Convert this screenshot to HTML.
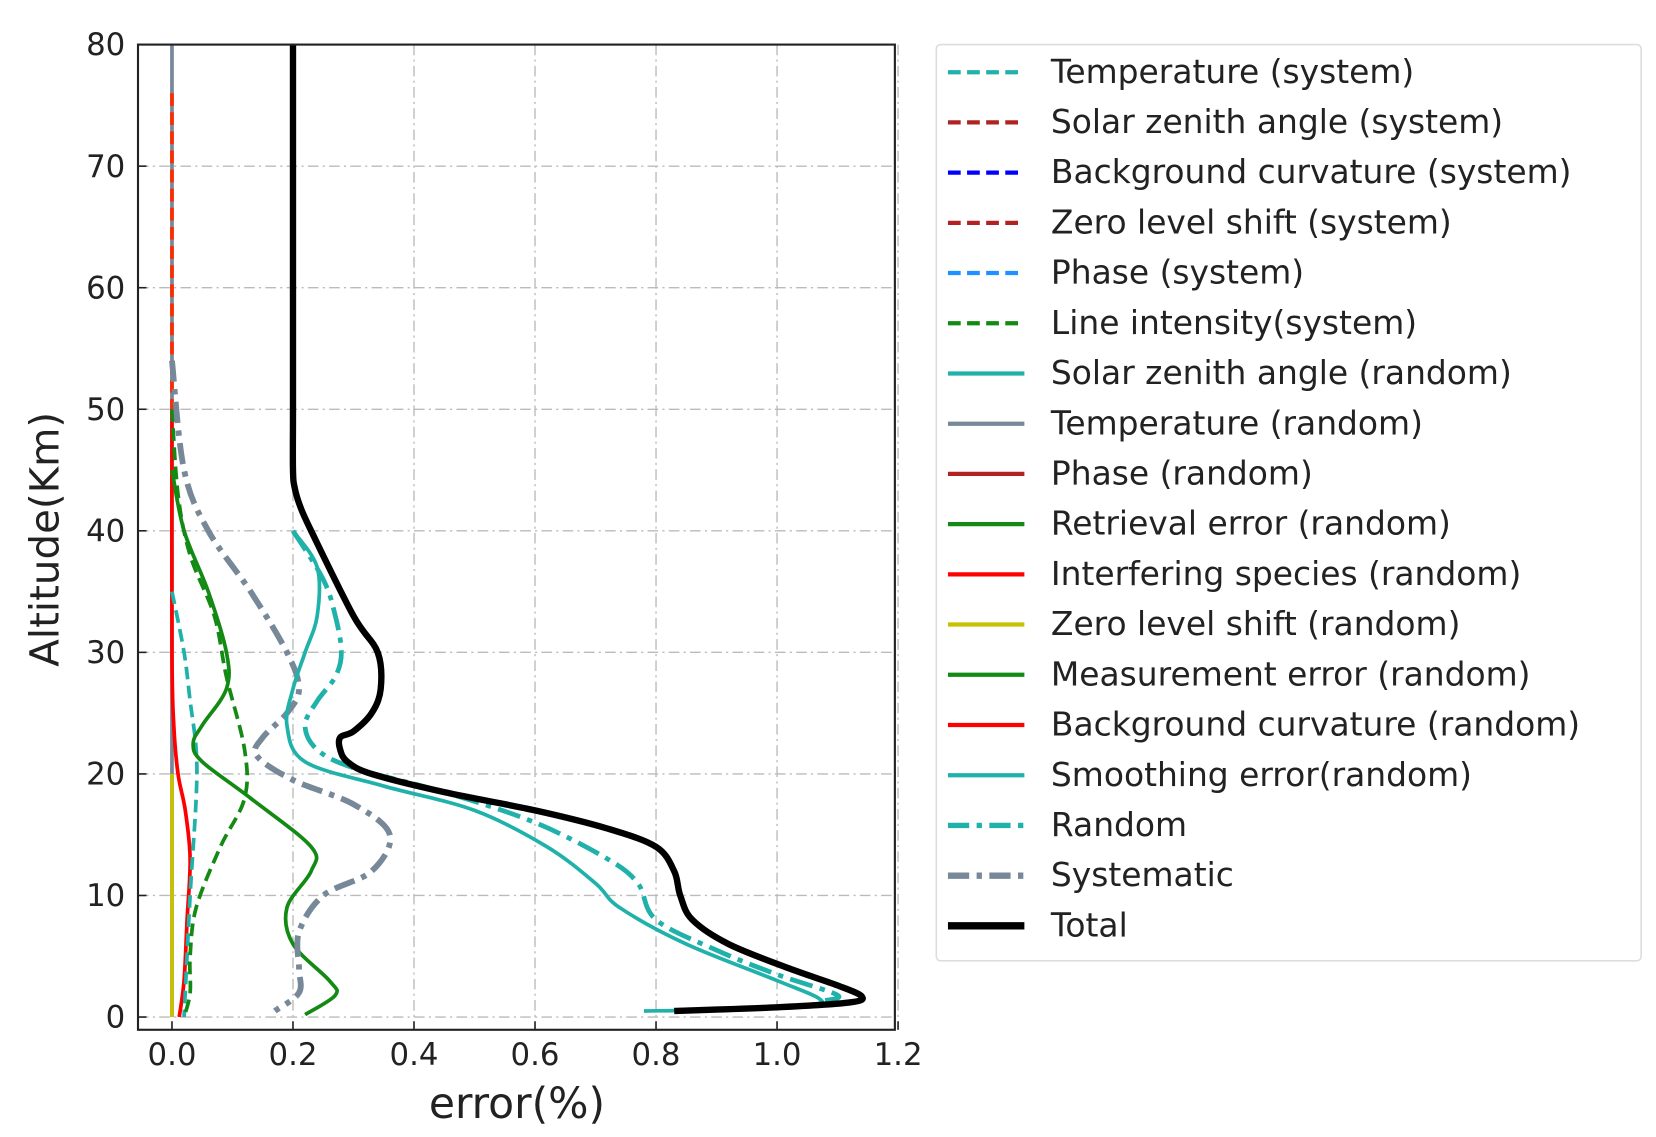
<!DOCTYPE html>
<html><head><meta charset="utf-8"><style>html,body{margin:0;padding:0;background:#fff}svg{display:block}</style></head>
<body>
<svg id="s" width="1656" height="1137" viewBox="0 0 1560 1071" preserveAspectRatio="none" xmlns="http://www.w3.org/2000/svg" font-family="DejaVu Sans, Liberation Sans, sans-serif">
<g id="grid"></g>
<g id="curves"></g>
<rect x="130" y="42" width="713" height="928" fill="none" stroke="#222" stroke-width="2"/>
<g id="ticks" font-size="29" fill="#222"></g>
<text x="487" y="1053" font-size="40" text-anchor="middle" fill="#222">error(%)</text>
<text transform="translate(55,508) rotate(-90)" font-size="38" text-anchor="middle" fill="#222">Altitude(Km)</text>
<rect x="882" y="42" width="664" height="863" rx="4" fill="#fff" stroke="#ddd" stroke-width="1.5"/>
<g id="leg" font-size="31" fill="#222"></g>
</svg>
<script>
const NS="http://www.w3.org/2000/svg";
const X=v=>162+v*570, Y=k=>958-k*11.45;
function el(p,t,a,txt){const e=document.createElementNS(NS,t);for(const k in a)e.setAttribute(k,a[k]);if(txt!==undefined)e.textContent=txt;document.getElementById(p).appendChild(e);return e;}
for(let i=0;i<=6;i++){const x=X(i*0.2);
 el('grid','line',{x1:x,y1:42,x2:x,y2:970,stroke:'#bbb','stroke-width':1.3,'stroke-dasharray':'10,4,2,4'});
 el('grid','line',{x1:x,y1:970,x2:x,y2:962,stroke:'#222','stroke-width':1.5});
 el('ticks','text',{x:x,y:1003,'text-anchor':'middle'},(i*0.2).toFixed(1));}
for(let k=0;k<=80;k+=10){const y=Y(k);
 el('grid','line',{x1:130,y1:y,x2:843,y2:y,stroke:'#bbb','stroke-width':1.3,'stroke-dasharray':'10,4,2,4'});
 el('grid','line',{x1:130,y1:y,x2:138,y2:y,stroke:'#222','stroke-width':1.5});
 el('ticks','text',{x:118,y:y+10,'text-anchor':'end'},k);}
function path(pts){const P=pts.map(p=>[X(p[0]),Y(p[1])]);let d='M'+P[0][0]+','+P[0][1];
 for(let i=0;i<P.length-1;i++){const p0=P[Math.max(0,i-1)],p1=P[i],p2=P[i+1],p3=P[Math.min(P.length-1,i+2)];
 d+=` C${p1[0]+(p2[0]-p0[0])/6},${p1[1]+(p2[1]-p0[1])/6} ${p2[0]-(p3[0]-p1[0])/6},${p2[1]-(p3[1]-p1[1])/6} ${p2[0]},${p2[1]}`;}return d;}
function C(pts,col,w,dash){el('curves','path',{d:path(pts),fill:'none',stroke:col,'stroke-width':w,'stroke-dasharray':dash||'none','stroke-linejoin':'round'});}
C([[0,80],[0,0]],'#778899',3.5);
C([[0,76],[0,50]],'#ff2a00',3.5,'12,6');
C([[0,20],[0,0]],'#c8c000',3.5);
C([[0,50],[0,30],[0.003,24],[0.01,20],[0.022,17],[0.03,13],[0.025,8],[0.02,3],[0.012,0]],'#ff0000',3.5);
C([[0,35],[0.02,30],[0.03,26],[0.04,22],[0.04,18],[0.03,10],[0.02,0]],'#20b2aa',3.5,'12,6');
C([[0,50],[0.01,43],[0.03,38],[0.07,33],[0.09,28],[0.12,22],[0.12,18],[0.08,14],[0.04,9],[0.03,5],[0.03,2],[0.02,0]],'#138a13',3.5,'12,6');
C([[0,45],[0.02,40],[0.06,35],[0.09,30],[0.09,27],[0.05,24],[0.035,22.5],[0.05,21],[0.13,18],[0.23,14],[0.23,12],[0.19,9],[0.2,6],[0.26,3],[0.27,1.8],[0.22,0.2]],'#138a13',3.5);
C([[0,54],[0.02,45],[0.06,40],[0.13,35],[0.19,30],[0.21,27],[0.19,25],[0.15,23],[0.14,21.5],[0.2,19.5],[0.3,17.5],[0.36,15],[0.33,12],[0.25,10],[0.21,7],[0.21,4],[0.21,2],[0.17,0.5]],'#778899',5.5,'20,7,5,7');
C([[0.2,40],[0.24,37],[0.24,33],[0.22,30],[0.2,27],[0.19,24],[0.22,21],[0.35,19],[0.5,17],[0.62,14],[0.7,11],[0.74,9],[0.85,6],[1.0,3],[1.07,1.5],[1.05,1],[0.9,0.6],[0.78,0.5]],'#20b2aa',3.5);
C([[0.2,40],[0.25,36],[0.27,33],[0.28,30],[0.27,28],[0.24,26],[0.22,24],[0.24,22],[0.3,20.5],[0.45,18.5],[0.6,16],[0.72,13],[0.77,11],[0.8,8],[0.9,5.5],[1.0,3.5],[1.1,1.8],[1.07,1.3]],'#20b2aa',4.5,'22,7,5,7');
C([[0.2,80],[0.2,60],[0.2,50],[0.2,45],[0.203,43.5],[0.212,42],[0.23,40],[0.3,33],[0.34,30],[0.345,27],[0.33,25],[0.3,23.5],[0.278,23],[0.278,22],[0.29,21],[0.33,20],[0.45,18.5],[0.6,17],[0.72,15.5],[0.8,14],[0.83,12],[0.84,10],[0.86,8],[0.92,6],[1.02,4],[1.1,2.6],[1.14,1.7],[1.12,1.2],[1.0,0.8],[0.83,0.5]],'#000',6);
const L=[["Temperature (system)","#20b2aa",4,"12,6"],["Solar zenith angle (system)","#b22222",4,"12,6"],["Background curvature (system)","#0000ff",4,"12,6"],["Zero level shift (system)","#b22222",4,"12,6"],["Phase (system)","#1e90ff",4,"12,6"],["Line intensity(system)","#138a13",4,"12,6"],["Solar zenith angle (random)","#20b2aa",4],["Temperature (random)","#778899",4],["Phase (random)","#b22222",4],["Retrieval error (random)","#138a13",4],["Interfering species (random)","#ff0000",4],["Zero level shift (random)","#c8c000",4],["Measurement error (random)","#138a13",4],["Background curvature (random)","#ff0000",4],["Smoothing error(random)","#20b2aa",4],["Random","#20b2aa",5,"20,7,5,7"],["Systematic","#778899",6,"20,7,5,7"],["Total","#000",7]];
L.forEach((l,i)=>{const y=68+i*47.3;
 el('leg','line',{x1:893,y1:y,x2:965,y2:y,stroke:l[1],'stroke-width':l[2],'stroke-dasharray':l[3]||'none'});
 el('leg','text',{x:990,y:y+10,textLength:null},l[0]);});
</script>
</body></html>
